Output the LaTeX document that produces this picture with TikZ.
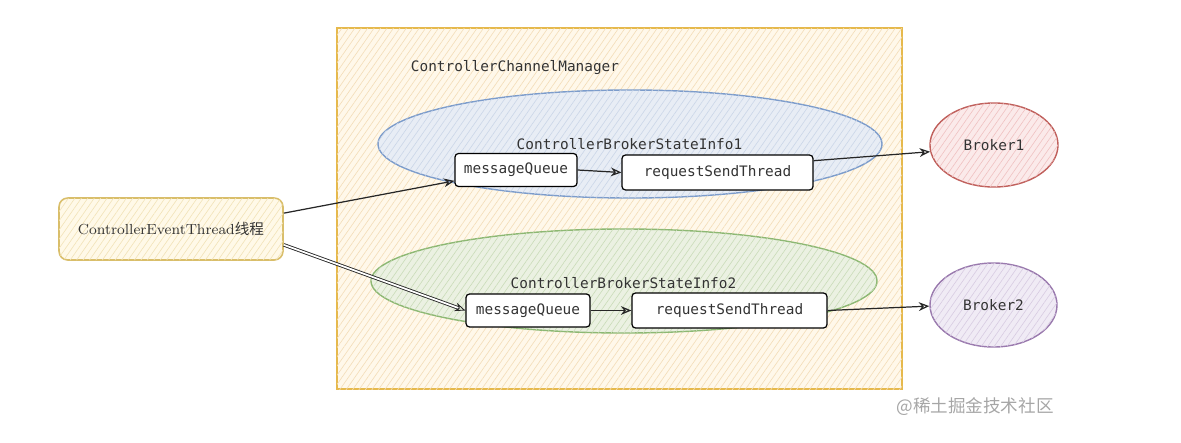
\documentclass[tikz,border=0pt]{standalone}
\usepackage{fontspec}
\setmonofont{DejaVu Sans Mono}
\newfontfamily\cjk{Noto Sans CJK SC}
\usetikzlibrary{shapes.geometric,arrows.meta,patterns.meta,calc}
\newlength\pxu
\setlength\pxu{0.02cm}
\definecolor{mgrfill}{HTML}{FFF8EA}
\definecolor{mgrhatch}{HTML}{F3DDB8}
\definecolor{mgrdraw}{HTML}{E6B94C}
\definecolor{bluefill}{HTML}{E8EDF5}
\definecolor{bluehatch}{HTML}{CBD6E8}
\definecolor{bluedraw}{HTML}{7C9CCB}
\definecolor{greenfill}{HTML}{EBF1E2}
\definecolor{greenhatch}{HTML}{CADCB9}
\definecolor{greendraw}{HTML}{8DB873}
\definecolor{redfill}{HTML}{FBEAEA}
\definecolor{redhatch}{HTML}{F0C2C2}
\definecolor{reddraw}{HTML}{C0605C}
\definecolor{purpfill}{HTML}{F0EBF5}
\definecolor{purphatch}{HTML}{D8CCE2}
\definecolor{purpdraw}{HTML}{9A7AAE}
\definecolor{yelfill}{HTML}{FFF9E8}
\definecolor{yelhatch}{HTML}{F2E3B8}
\definecolor{yeldraw}{HTML}{D9BE6A}
\definecolor{txt}{HTML}{333333}
\tikzset{
  hatched/.style={postaction={pattern={Lines[angle=55,distance=3pt,line width=0.35pt]},pattern color=#1}},
  monotext/.style={font=\ttfamily\fontsize{8.2}{10}\selectfont, text=txt},
  innerbox/.style={draw=black, line width=0.7pt, fill=white, rounded corners=2pt, monotext, inner sep=0pt},
  grp/.style={ellipse, line width=0.8pt, inner sep=0pt},
  arr/.style={-{Stealth[length=6pt,width=5pt,open]}, line width=0.7pt, draw=black!85},
}
\begin{document}
\begin{tikzpicture}[x=0.02cm,y=-0.02cm]
\useasboundingbox (0,0) rectangle (1181,443);
% manager box
\node (mgr) [draw=mgrdraw, line width=1pt, fill=mgrfill, hatched=mgrhatch,
  minimum width=565*\pxu, minimum height=361*\pxu, inner sep=0pt] at (619.5,208.5) {};
\node (title) [monotext] at (515,68) {ControllerChannelManager};
% group 1
\node (e1) [grp, draw=bluedraw, fill=bluefill, hatched=bluehatch,
  minimum width=504*\pxu, minimum height=108*\pxu] at (630,144) {};
\node (l1) [monotext] at (629.5,144) {ControllerBrokerStateInfo1};
\node (mq1) [innerbox, minimum width=122*\pxu, minimum height=33*\pxu] at (516,170) {messageQueue};
\node (rst1) [innerbox, minimum width=191*\pxu, minimum height=35*\pxu] at (717.5,172.5) {requestSendThread};
% group 2
\node (e2) [grp, draw=greendraw, fill=greenfill, hatched=greenhatch,
  minimum width=506*\pxu, minimum height=104*\pxu] at (624,281) {};
\node (l2) [monotext] at (623.5,283) {ControllerBrokerStateInfo2};
\node (mq2) [innerbox, minimum width=124*\pxu, minimum height=33*\pxu] at (528,310.5) {messageQueue};
\node (rst2) [innerbox, minimum width=195*\pxu, minimum height=35*\pxu] at (729.5,310.5) {requestSendThread};
% brokers
\node (b1) [grp, draw=reddraw, fill=redfill, hatched=redhatch, monotext,
  minimum width=128*\pxu, minimum height=84*\pxu] at (994,145) {Broker1};
\node (b2) [grp, draw=purpdraw, fill=purpfill, hatched=purphatch, monotext,
  minimum width=127*\pxu, minimum height=84*\pxu] at (993.5,305) {Broker2};
% event thread
\node (cet) [draw=yeldraw, line width=0.9pt, fill=yelfill, hatched=yelhatch, rounded corners=5pt,
  minimum width=224*\pxu, minimum height=62*\pxu, inner sep=0pt, text=txt,
  font=\fontsize{8.3}{10}\selectfont] at (171,229) {ControllerEventThread{\cjk 线程}};
% watermark
\node (wm) [text=black!35, font=\cjk\fontsize{10}{12}\selectfont] at (975,407) {@稀土掘金技术社区};
% connectors
\draw[arr] (cet.8.6) -- (mq1.190);
\draw[arr, double=white, double distance=1pt, line width=0.5pt] (cet.-8.1) -- (mq2.west);
\draw[arr] (mq1.east) -- (rst1.west);
\draw[arr] (mq2.east) -- (rst2.west);
\draw[arr] (rst1.7) -- (b1.186);
\draw[arr] (rst2.east) -- (b2.181);
\end{tikzpicture}
\end{document}
